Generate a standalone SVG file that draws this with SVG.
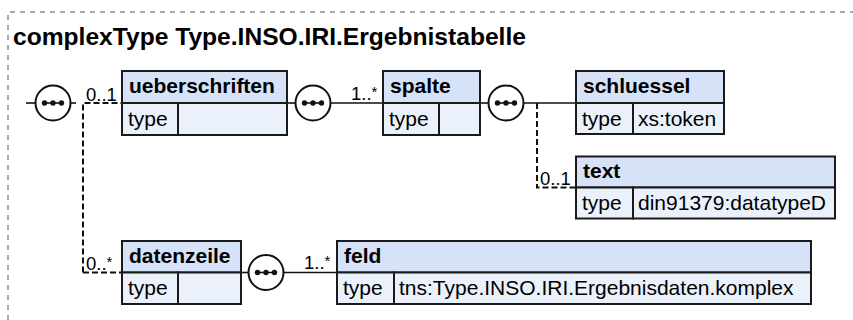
<svg xmlns="http://www.w3.org/2000/svg" width="853" height="320" viewBox="0 0 853 320">
<defs>
<style>
.frame{fill:none;stroke:#8c8c8c;stroke-width:1.5;stroke-dasharray:5,5}
.title{font-family:"Liberation Sans",Arial,sans-serif;font-weight:bold;font-size:24.6px;fill:#000}
.hd{fill:#d6e2f7;stroke:#1a1a1a;stroke-width:2}
.bd{fill:#eaf1fb;stroke:#1a1a1a;stroke-width:2}
.name{font-family:"Liberation Sans",Arial,sans-serif;font-weight:bold;font-size:21px;fill:#000}
.cell{font-family:"Liberation Sans",Arial,sans-serif;font-size:21px;fill:#000}
.mult{font-family:"Liberation Sans",Arial,sans-serif;font-size:18.5px;fill:#000}
.sup{font-size:15px}
.ln{fill:none;stroke:#111;stroke-width:1.6}
.dash{fill:none;stroke:#111;stroke-width:2;stroke-dasharray:6,3}
.seq{fill:#fff;stroke:#111;stroke-width:2}
.dot{fill:#111}
</style>
<g id="seqicon">
<circle class="seq" cx="0" cy="0" r="17.5"/>
<line x1="-11" y1="0" x2="11" y2="0" stroke="#111" stroke-width="1.6"/>
<circle class="dot" cx="-8.5" cy="0" r="2.7"/>
<circle class="dot" cx="0" cy="0" r="2.7"/>
<circle class="dot" cx="8.5" cy="0" r="2.7"/>
</g>
</defs>
<rect width="853" height="320" fill="#fff"/>
<path class="frame" d="M8,330 L8,12 L860,12"/>
<text class="title" x="13" y="45">complexType Type.INSO.IRI.Ergebnistabelle</text>

<g id="connectors">
<line class="ln" x1="26" y1="103" x2="35" y2="103"/>
<line class="ln" x1="71" y1="103" x2="76" y2="103"/>
<path class="dash" d="M83,272.5 L83,103 L122,103"/>
<path class="dash" d="M83,272.5 L122,272.5"/>
<text class="mult" x="86" y="101">0..1</text>
<text class="mult" x="86" y="270">0..<tspan class="sup" dy="-3">*</tspan></text>
<line class="ln" x1="287" y1="103" x2="295" y2="103"/>
<line class="ln" x1="331" y1="103" x2="383" y2="103"/>
<text class="mult" x="351" y="100">1..<tspan class="sup" dy="-3">*</tspan></text>
<line class="ln" x1="480" y1="103" x2="488" y2="103"/>
<line class="ln" x1="524" y1="103" x2="576" y2="103"/>
<path class="dash" d="M537,103 L537,187.5 L576,187.5"/>
<text class="mult" x="540" y="185">0..1</text>
<line class="ln" x1="241" y1="272.5" x2="248" y2="272.5"/>
<line class="ln" x1="284" y1="272.5" x2="337" y2="272.5"/>
<text class="mult" x="304" y="269">1..<tspan class="sup" dy="-3">*</tspan></text>
<use href="#seqicon" x="53" y="103"/>
<use href="#seqicon" x="313" y="103"/>
<use href="#seqicon" x="506" y="103"/>
<use href="#seqicon" x="266" y="272.5"/>
</g>

<g id="ueberschriften">
<rect class="hd" x="122" y="71" width="165" height="32"/>
<rect class="bd" x="122" y="103" width="56" height="32"/>
<rect class="bd" x="178" y="103" width="109" height="32"/>
<text class="name" x="129" y="93">ueberschriften</text>
<text class="cell" x="128" y="126">type</text>
</g>

<g id="spalte">
<rect class="hd" x="383" y="71" width="97" height="32"/>
<rect class="bd" x="383" y="103" width="56" height="32"/>
<rect class="bd" x="439" y="103" width="41" height="32"/>
<text class="name" x="390" y="93">spalte</text>
<text class="cell" x="389" y="126">type</text>
</g>

<g id="schluessel">
<rect class="hd" x="576" y="71" width="148" height="32"/>
<rect class="bd" x="576" y="103" width="57" height="31"/>
<rect class="bd" x="633" y="103" width="91" height="31"/>
<text class="name" x="583" y="93">schluessel</text>
<text class="cell" x="582" y="126">type</text>
<text class="cell" x="638" y="126">xs:token</text>
</g>

<g id="text">
<rect class="hd" x="576" y="156.5" width="259" height="31"/>
<rect class="bd" x="576" y="187.5" width="57" height="31"/>
<rect class="bd" x="633" y="187.5" width="202" height="31"/>
<text class="name" x="583" y="178">text</text>
<text class="cell" x="582" y="210">type</text>
<text class="cell" x="638" y="210">din91379:datatypeD</text>
</g>

<g id="datenzeile">
<rect class="hd" x="122" y="241" width="119" height="31.5"/>
<rect class="bd" x="122" y="272.5" width="56" height="31.5"/>
<rect class="bd" x="178" y="272.5" width="63" height="31.5"/>
<text class="name" x="129" y="263">datenzeile</text>
<text class="cell" x="128" y="295">type</text>
</g>

<g id="feld">
<rect class="hd" x="337" y="241" width="474" height="31.5"/>
<rect class="bd" x="337" y="272.5" width="57" height="31.5"/>
<rect class="bd" x="394" y="272.5" width="417" height="31.5"/>
<text class="name" x="344" y="263">feld</text>
<text class="cell" x="343" y="295">type</text>
<text class="cell" x="399" y="295">tns:Type.INSO.IRI.Ergebnisdaten.komplex</text>
</g>
</svg>
